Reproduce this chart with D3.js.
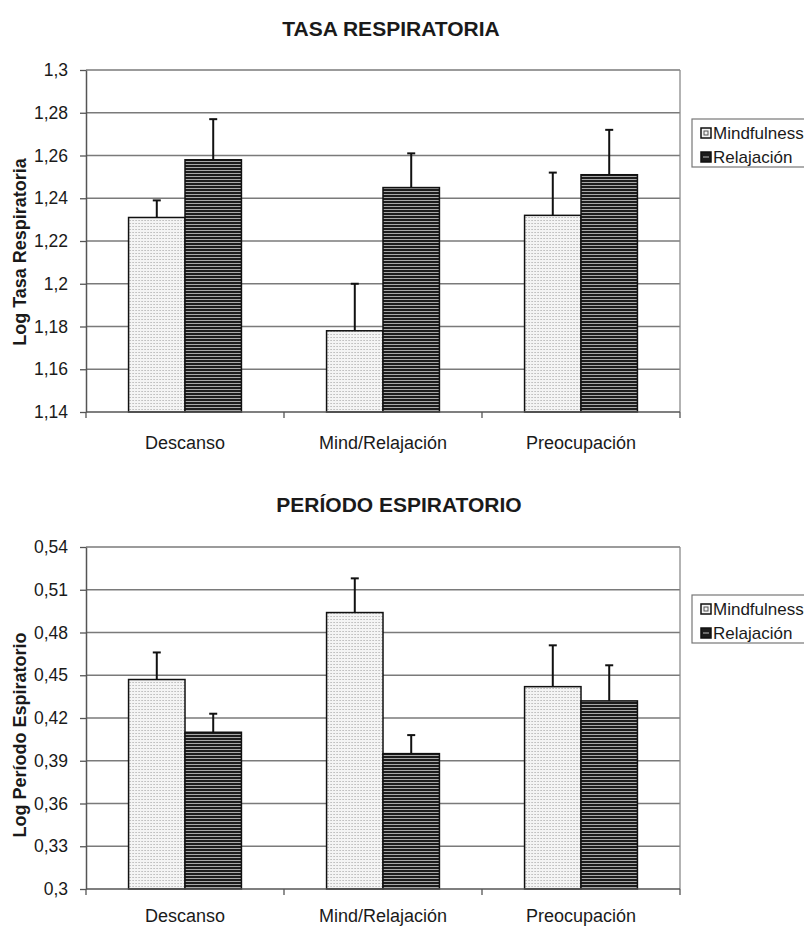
<!DOCTYPE html>
<html>

<head>
    <meta charset="UTF-8">
    <title>TASA RESPIRATORIA / PERÍODO ESPIRATORIO</title>
    <script src="https://d3js.org/d3.v7.min.js"></script>
    <style>
        body { margin: 0; background: #fff; }
        text { font-family: "Liberation Sans", Arial, sans-serif; fill: #1a1a1a; }
    </style>
</head>

<body>
    <div id="chart"></div>
    <script type="text/javascript">
        // data
        const categories = ["Descanso", "Mind/Relajación", "Preocupación"];
        const seriesNames = ["Mindfulness", "Relajación"];

        const tasaMind = [1.231, 1.178, 1.232];
        const tasaMindErr = [0.008, 0.022, 0.020];
        const tasaRelaj = [1.258, 1.245, 1.251];
        const tasaRelajErr = [0.019, 0.016, 0.021];
        const tasaTicks = [1.14, 1.16, 1.18, 1.2, 1.22, 1.24, 1.26, 1.28, 1.3];

        const perMind = [0.447, 0.494, 0.442];
        const perMindErr = [0.019, 0.024, 0.029];
        const perRelaj = [0.410, 0.395, 0.432];
        const perRelajErr = [0.013, 0.013, 0.025];
        const perTicks = [0.3, 0.33, 0.36, 0.39, 0.42, 0.45, 0.48, 0.51, 0.54];

        const width = 804;
        const height = 926;

        const svg = d3.select("#chart")
            .append("svg")
            .attr("width", width)
            .attr("height", height);

        // fill patterns
        const defs = svg.append("defs");
        const dots = defs.append("pattern")
            .attr("id", "dots")
            .attr("patternUnits", "userSpaceOnUse")
            .attr("width", 3)
            .attr("height", 3);
        dots.append("rect").attr("width", 3).attr("height", 3).attr("fill", "#f4f4f4");
        dots.append("rect").attr("x", 1).attr("y", 1).attr("width", 1).attr("height", 1).attr("fill", "#9a9a9a");

        const stripes = defs.append("pattern")
            .attr("id", "stripes")
            .attr("patternUnits", "userSpaceOnUse")
            .attr("width", 6)
            .attr("height", 3);
        stripes.append("rect").attr("width", 6).attr("height", 3).attr("fill", "#1c1c1c");
        stripes.append("rect").attr("y", 2).attr("width", 6).attr("height", 1).attr("fill", "#a8a8a8");

        const fills = ["url(#dots)", "url(#stripes)"];
        const legendFills = ["#f4f4f4", "#1c1c1c"];

        const fmt = v => String(v).replace(".", ",");

        function drawChart(cfg) {
            const g = svg.append("g");
            const left = 86, right = 680;

            const x = d3.scaleBand()
                .domain(categories)
                .range([left, right])
                .paddingInner(0.43)
                .paddingOuter(0.215);
            const xs = d3.scaleBand()
                .domain(seriesNames)
                .range([0, x.bandwidth()]);
            const y = d3.scaleLinear()
                .domain(d3.extent(cfg.ticks))
                .range([cfg.bottom, cfg.top]);

            // gridlines
            g.selectAll("line.grid")
                .data(cfg.ticks.slice(1))
                .enter()
                .append("line")
                .attr("class", "grid")
                .attr("x1", left)
                .attr("x2", right)
                .attr("y1", d => y(d))
                .attr("y2", d => y(d))
                .attr("stroke", "#7a7a7a")
                .attr("stroke-width", 1.3);

            // plot frame right side
            g.append("line")
                .attr("x1", right).attr("x2", right)
                .attr("y1", cfg.top).attr("y2", cfg.bottom)
                .attr("stroke", "#8a8a8a")
                .attr("stroke-width", 1.3);

            // y axis
            const yAxis = g.append("g")
                .attr("transform", "translate(" + left + ",0)")
                .call(d3.axisLeft(y).tickValues(cfg.ticks).tickFormat(fmt).tickSize(6).tickSizeOuter(0));
            yAxis.select(".domain").attr("stroke", "#555").attr("stroke-width", 1.5);
            yAxis.selectAll(".tick line").attr("stroke", "#555").attr("stroke-width", 1.3);
            yAxis.selectAll(".tick text")
                .attr("x", -18)
                .style("font-size", "17.5px")
                .style("font-family", "Liberation Sans, Arial, sans-serif")
                .attr("fill", "#1a1a1a");

            // bars
            const rows = categories.map((c, i) => [
                { cat: c, s: seriesNames[0], v: cfg.mind[i], e: cfg.mindErr[i], k: 0 },
                { cat: c, s: seriesNames[1], v: cfg.relaj[i], e: cfg.relajErr[i], k: 1 }
            ]);
            const groups = g.selectAll("g.cat")
                .data(rows)
                .enter()
                .append("g")
                .attr("class", "cat")
                .attr("transform", d => "translate(" + x(d[0].cat) + ",0)");

            // error bars (drawn behind the bar tops)
            groups.selectAll("line.err")
                .data(d => d)
                .enter()
                .append("line")
                .attr("x1", d => xs(d.s) + xs.bandwidth() / 2)
                .attr("x2", d => xs(d.s) + xs.bandwidth() / 2)
                .attr("y1", d => y(d.v))
                .attr("y2", d => y(d.v + d.e))
                .attr("stroke", "#111")
                .attr("stroke-width", 2);
            groups.selectAll("line.cap")
                .data(d => d)
                .enter()
                .append("line")
                .attr("x1", d => xs(d.s) + xs.bandwidth() / 2 - 4)
                .attr("x2", d => xs(d.s) + xs.bandwidth() / 2 + 4)
                .attr("y1", d => y(d.v + d.e))
                .attr("y2", d => y(d.v + d.e))
                .attr("stroke", "#111")
                .attr("stroke-width", 2);

            groups.selectAll("rect")
                .data(d => d)
                .enter()
                .append("rect")
                .attr("x", d => xs(d.s))
                .attr("y", d => y(d.v))
                .attr("width", xs.bandwidth())
                .attr("height", d => cfg.bottom - y(d.v))
                .attr("fill", d => fills[d.k])
                .attr("stroke", "#111")
                .attr("stroke-width", 1.5);

            // x axis
            g.append("line")
                .attr("x1", left).attr("x2", right)
                .attr("y1", cfg.bottom).attr("y2", cfg.bottom)
                .attr("stroke", "#555")
                .attr("stroke-width", 1.5);
            const step = x.step();
            const bounds = d3.range(categories.length + 1).map(i => left + i * step);
            g.selectAll("line.xtick")
                .data(bounds)
                .enter()
                .append("line")
                .attr("x1", d => d).attr("x2", d => d)
                .attr("y1", cfg.bottom).attr("y2", cfg.bottom + 6)
                .attr("stroke", "#555")
                .attr("stroke-width", 1.3);
            g.selectAll("text.xlab")
                .data(categories)
                .enter()
                .append("text")
                .attr("x", d => x(d) + x.bandwidth() / 2)
                .attr("y", cfg.bottom + cfg.labelOffset)
                .attr("text-anchor", "middle")
                .style("font-size", "18px")
                .text(d => d);

            // titles
            g.append("text")
                .attr("x", cfg.titleX)
                .attr("y", cfg.titleY)
                .attr("text-anchor", "middle")
                .style("font-size", "21px")
                .style("font-weight", "bold")
                .text(cfg.title);
            g.append("text")
                .attr("transform", "translate(26," + cfg.yTitleY + ")rotate(-90)")
                .attr("text-anchor", "middle")
                .style("font-size", "18px")
                .style("font-weight", "bold")
                .text(cfg.yTitle);

            // legend
            const lg = g.append("g").attr("transform", "translate(692," + cfg.legendY + ")");
            lg.append("rect")
                .attr("width", 130)
                .attr("height", 48)
                .attr("fill", "#fff")
                .attr("stroke", "#777")
                .attr("stroke-width", 1.2);
            const items = lg.selectAll("g.item")
                .data(seriesNames)
                .enter()
                .append("g")
                .attr("transform", (d, i) => "translate(0," + (14 + i * 24) + ")");
            items.append("rect")
                .attr("x", 9)
                .attr("y", -5)
                .attr("width", 10)
                .attr("height", 10)
                .attr("fill", (d, i) => legendFills[i])
                .attr("stroke", "#111")
                .attr("stroke-width", 1.5);
            items.filter((d, i) => i === 0).append("rect")
                .attr("x", 12).attr("y", -2).attr("width", 4).attr("height", 4)
                .attr("fill", "none").attr("stroke", "#555").attr("stroke-width", 1);
            items.filter((d, i) => i === 1).append("line")
                .attr("x1", 11).attr("x2", 17).attr("y1", 0).attr("y2", 0)
                .attr("stroke", "#bbb").attr("stroke-width", 1);
            items.append("text")
                .attr("x", 21)
                .attr("y", 6)
                .style("font-size", "17px")
                .text(d => d);
        }

        drawChart({
            title: "TASA RESPIRATORIA",
            yTitle: "Log Tasa Respiratoria",
            top: 70, bottom: 412,
            titleX: 391, titleY: 36,
            yTitleY: 252,
            legendY: 119,
            labelOffset: 37,
            ticks: tasaTicks,
            mind: tasaMind, mindErr: tasaMindErr,
            relaj: tasaRelaj, relajErr: tasaRelajErr
        });

        drawChart({
            title: "PERÍODO ESPIRATORIO",
            yTitle: "Log Período Espiratorio",
            top: 547, bottom: 889,
            titleX: 399, titleY: 512,
            yTitleY: 735,
            legendY: 595,
            labelOffset: 33,
            ticks: perTicks,
            mind: perMind, mindErr: perMindErr,
            relaj: perRelaj, relajErr: perRelajErr
        });
    </script>
</body>

</html>
